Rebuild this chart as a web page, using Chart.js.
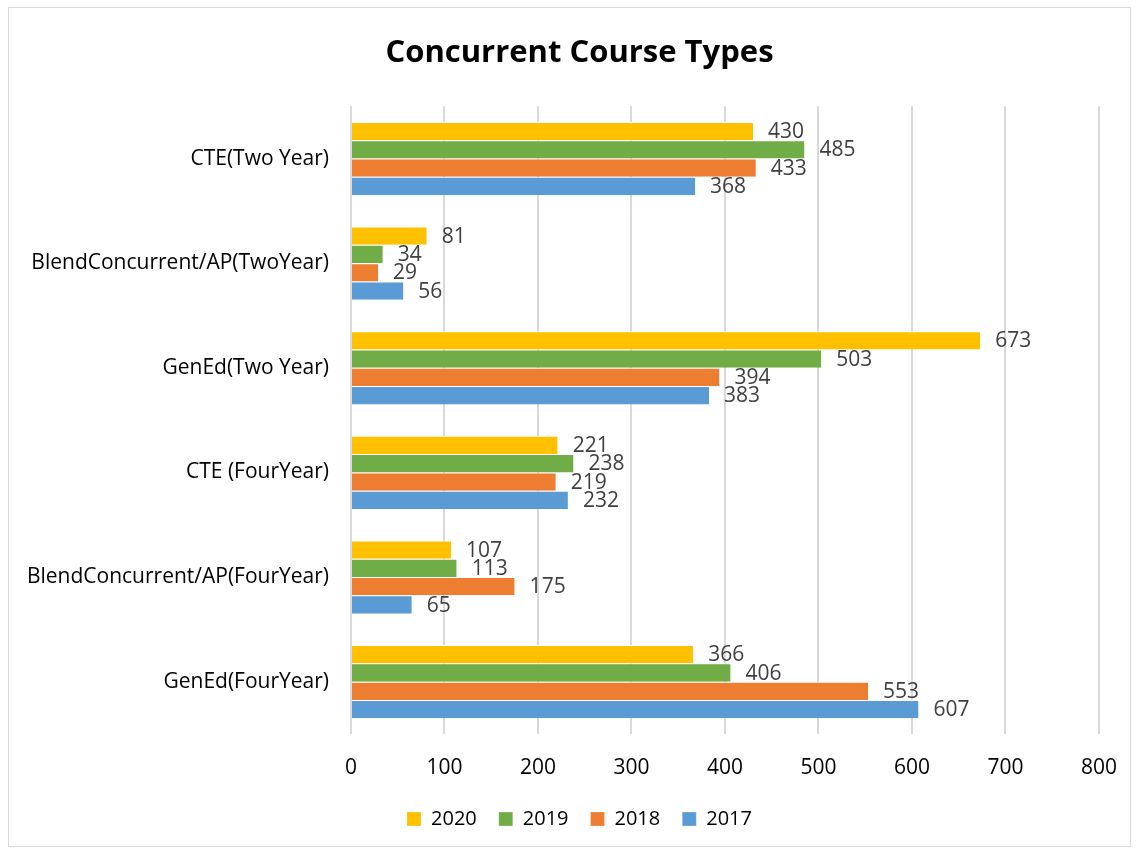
<!DOCTYPE html>
<html>
<head>
<meta charset="utf-8">
<script src="https://cdn.jsdelivr.net/npm/chart.js@4"></script>
<style>
  html, body { margin: 0; padding: 0; background: #fff; }
  #wrap { width: 1138px; height: 851px; }
</style>
</head>
<body>
<div id="wrap"><canvas id="courseChart"></canvas></div>
<script>
const categories = ['CTE(Two Year)', 'BlendConcurrent/AP(TwoYear)', 'GenEd(Two Year)', 'CTE (FourYear)', 'BlendConcurrent/AP(FourYear)', 'GenEd(FourYear)'];
const years = ['2020', '2019', '2018', '2017'];
const values2020 = [430, 81, 673, 221, 107, 366];
const values2019 = [485, 34, 503, 238, 113, 406];
const values2018 = [433, 29, 394, 219, 175, 553];
const values2017 = [368, 56, 383, 232, 65, 607];
const xTicks = [0, 100, 200, 300, 400, 500, 600, 700, 800];

const colors = ['#FFC000', '#70AD47', '#ED7D31', '#5B9BD5'];
const seriesValues = [values2020, values2019, values2018, values2017];
const fontFamily = '"Open Sans", "Noto Sans", sans-serif';

// bordure grise autour du graphique
const frame = {
    id: 'frame',
    beforeDraw(chart) {
        const ctx = chart.ctx;
        ctx.save();
        ctx.fillStyle = '#fff';
        ctx.fillRect(0, 0, chart.width, chart.height);
        ctx.strokeStyle = '#D9D9D9';
        ctx.lineWidth = 1;
        ctx.strokeRect(8.5, 7.5, chart.width - 16, chart.height - 12);
        ctx.restore();
    }
};

// titre et legende decales vers le centre de la figure
const shiftBlocks = {
    id: 'shiftBlocks',
    afterLayout(chart) {
        const d = 30;
        [chart.titleBlock, chart.legend].forEach(b => {
            if (b) { b.left += d; b.right += d; }
        });
        if (chart.legend && chart.legend.legendHitBoxes) {
            chart.legend.legendHitBoxes.forEach(h => { h.left += d; });
        }
    }
};

// etiquettes de valeur au bout des barres
const valueLabels = {
    id: 'valueLabels',
    afterDatasetsDraw(chart) {
        const ctx = chart.ctx;
        ctx.save();
        ctx.font = '21px ' + fontFamily;
        ctx.fillStyle = '#404040';
        ctx.textAlign = 'left';
        ctx.textBaseline = 'middle';
        chart.data.datasets.forEach((ds, i) => {
            chart.getDatasetMeta(i).data.forEach((bar, j) => {
                ctx.fillText(ds.data[j], bar.x + 15, bar.y + 1);
            });
        });
        ctx.restore();
    }
};

new Chart(document.getElementById('courseChart'), {
    type: 'bar',
    data: {
        labels: categories,
        datasets: years.map((y, i) => ({
            label: y,
            data: seriesValues[i],
            backgroundColor: colors[i],
            borderColor: '#fff',
            borderWidth: { top: 1, bottom: 0, left: 0, right: 0 },
            categoryPercentage: 0.7,
            barPercentage: 1.0
        }))
    },
    options: {
        indexAxis: 'y',
        responsive: true,
        maintainAspectRatio: false,
        animation: false,
        layout: { padding: { left: 0, right: 39, top: 0, bottom: 12 } },
        plugins: {
            title: {
                display: true,
                text: 'Concurrent Course Types',
                color: '#000',
                font: { family: fontFamily, size: 31, weight: 'bold' },
                padding: { top: 35, bottom: 34 }
            },
            legend: {
                position: 'bottom',
                labels: {
                    color: '#000',
                    font: { family: fontFamily, size: 20 },
                    boxWidth: 14,
                    boxHeight: 14,
                    padding: 22
                }
            },
            tooltip: { enabled: false }
        },
        scales: {
            x: {
                min: 0,
                max: 800,
                afterBuildTicks: (scale) => { scale.ticks = xTicks.map(v => ({ value: v })); },
                afterFit: (scale) => { scale.height = 53; },
                grid: { color: '#D9D9D9', lineWidth: 2, drawTicks: false },
                border: { display: false },
                ticks: { color: '#000', font: { family: fontFamily, size: 21 }, padding: 21 }
            },
            y: {
                afterFit: (scale) => { scale.width = 351; },
                grid: { display: false, drawTicks: false },
                border: { display: false },
                ticks: { color: '#000', font: { family: fontFamily, size: 21 }, padding: 22 }
            }
        }
    },
    plugins: [frame, shiftBlocks, valueLabels]
});
</script>
</body>
</html>
